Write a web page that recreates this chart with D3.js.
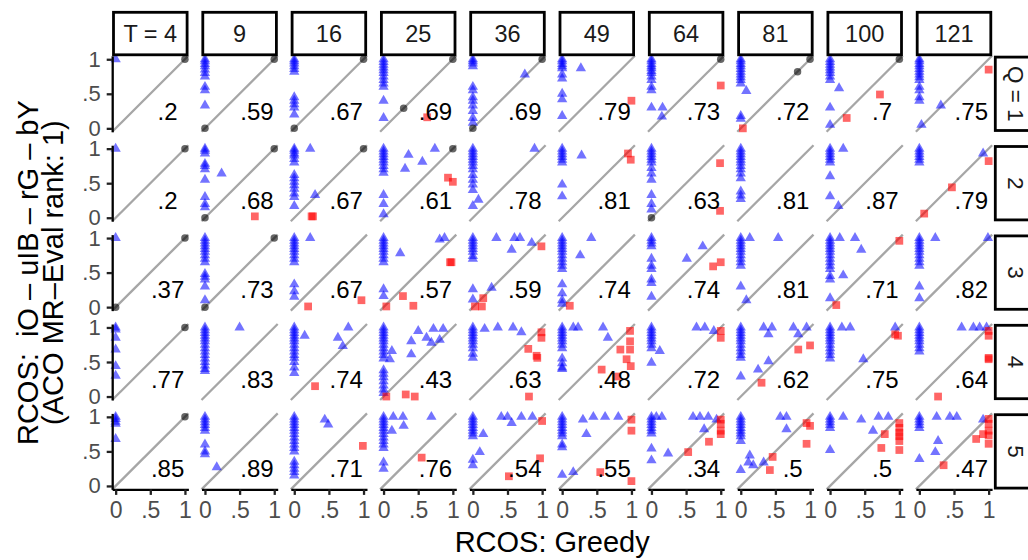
<!DOCTYPE html>
<html>
<head>
<meta charset="utf-8">
<script src="https://cdn.jsdelivr.net/npm/d3@7"></script>
<style>
  body { margin: 0; background: #fff; }
  svg { display: block; font-family: "Liberation Sans", Arial, sans-serif; }
</style>
</head>
<body>
<div id="chart"></div>
<script>
// facet categories
const tValues = [4, 9, 16, 25, 36, 49, 64, 81, 100, 121];
const qValues = [1, 2, 3, 4, 5];
const tickValues = [0, 0.5, 1];
const tickLabels = ["0", ".5", "1"];

// ratio label printed in each panel, one list per Q row
const ratioQ1 = [.2, .59, .67, .69, .69, .79, .73, .72, .7, .75];
const ratioQ2 = [.2, .68, .67, .61, .78, .81, .63, .81, .87, .79];
const ratioQ3 = [.37, .73, .67, .57, .59, .74, .74, .81, .71, .82];
const ratioQ4 = [.77, .83, .74, .43, .63, .48, .72, .62, .75, .64];
const ratioQ5 = [.85, .89, .71, .76, .54, .55, .34, .5, .5, .47];

// RCOS values of the runs where Greedy = 0, one list per T
const zeroQ1 = [
  [1],
  [1, .97, .93, .9, .85, .8, .75, .6, .55, .33, 0],
  [1, .97, .94, .9, .86, .82, .45, .4, .35, .3, .2, 0],
  [1, .96, .92, .88, .84, .8, .75, .7, .65, .6, .4, .15],
  [1, .97, .94, .9, .6, .55, .45, .4, .33, .25, .15, .08, 0],
  [1, .97, .93, .9, .87, .78, .72, .5, .42, .18],
  [1, .97, .93, .9, .87, .83, .8, .75, .7, .6, .55, .3],
  [1, .97, .93, .9, .86, .82, .78, .74, .7, .65, .18, .14],
  [1, .96, .92, .88, .84, .8, .75, .7, .3, .05],
  [1, .97, .93, .9, .86, .82, .78, .74, .7, .6, .55, .45, .4]
];
const zeroQ2 = [
  [1],
  [1, .97, .93, .78, .75, .7, .55, .3, .2, .15, 0],
  [1, .97, .93, .9, .85, .8, .62, .57, .52, .47, .42, .35, .3, .17],
  [1, .96, .92, .88, .84, .8, .75, .7, .65, .33, .2, .05],
  [1, .96, .92, .88, .84, .8, .75, .7, .62, .55, .48, .4, .17],
  [1, .96, .92, .88, .84, .8, .48, .31],
  [1, .96, .92, .88, .84, .8, .72, .64, .55, .33, .2, .12, 0],
  [1, .96, .92, .88, .84, .8, .75, .7, .64, .57, .38, .32, .27],
  [1, .96, .92, .88, .84, .8, .6, .31],
  [1, .96, .92, .88, .84, .8]
];
const zeroQ3 = [
  [1, 0],
  [1, .96, .92, .88, .84, .8, .75, .7, .65, .48, .44, .4, .3, .1, 0],
  [1, .96, .92, .88, .84, .8, .75, .7, .65, .33, .23, .15],
  [1, .96, .92, .88, .84, .8, .75, .7, .65, .26, .16],
  [1, .96, .92, .88, .84, .8, .74, .7, .26, .11],
  [1, .96, .92, .88, .84, .8, .75, .7, .65, .6, .55, .33, .2, .1, .05],
  [1, .96, .92, .88, .7, .6, .55, .4, .35, .15],
  [1, .96, .92, .88, .84, .8, .75, .7, .65, .6, .3],
  [1, .96, .92, .88, .84, .8, .75, .7, .65, .6, .55, .45, .4, .13],
  [1, .96, .92, .88, .84, .8, .75, .7, .65, .6, .3, .13]
];
const zeroQ4 = [
  [1, .97, .85, .68, .44, .3],
  [1, .96, .92, .88, .84, .8, .75, .7, .65, .6, .55, .5, .45, .4, .37],
  [1, .96, .92, .88, .84, .8, .75, .7, .65, .6, .56, .5, .42, .34],
  [1, .96, .92, .88, .84, .8, .75, .7, .65, .6, .55, .38, .33, .28, .22, .16, .1, .05],
  [1, .96, .92, .88, .84, .8, .75, .7, .62, .56],
  [1, .96, .92, .88, .84, .8, .75, .7, .55, .48, .42, .4],
  [1, .96, .92, .88, .84, .8, .75, .7, .49],
  [1, .96, .92, .88, .84, .8, .75, .7, .65, .6, .56, .29],
  [1, .96, .92, .88, .84, .8, .75, .7, .65, .6, .55],
  [1, .96, .92, .88, .84, .8, .75, .7, .65]
];
const zeroQ5 = [
  [1, .97, .93, .9, .68],
  [1, .96, .92, .88, .84, .8, .6, .5, .46],
  [1, .96, .92, .88, .84, .8, .75, .7, .65, .6, .55, .5, .35, .3, .25, .2, .15],
  [1, .96, .92, .88, .84, .8, .75, .7, .65, .6, .55, .34, .25],
  [1, .96, .92, .88, .84, .8, .76, .72, .38, .3],
  [1, .96, .92, .88, .84, .8, .76, .72, .6, .56, .16],
  [1, .96, .92, .88, .84, .8, .76, .54, .37],
  [1, .96, .92, .88, .84, .8, .76, .72, .65, .23],
  [1, .96, .92, .88, .84, .52],
  [1, .96, .92, .88, .84, .39]
];

// other runs: [T, Greedy, RCOS]
const moreQ1 = [
  [4, 1, 1], [9, 1, 1], [16, 1, 1], [25, .29, .29], [25, 1, 1], [25, .63, .16],
  [36, .75, .78], [36, 1, 1], [49, .27, .87], [49, 1, .4],
  [64, .16, .3], [64, .15, .17], [64, 1, 1], [64, 1, .62],
  [81, .08, .54], [81, .03, 0], [81, .82, .82], [81, 1, 1],
  [100, .13, .58], [100, .72, .49], [100, .24, .15], [100, 1, 1],
  [121, .31, .33], [121, .03, .05], [121, 1, .85]
];
const moreQ2 = [
  [4, 1, 1], [9, 1, 1], [9, .24, .64], [9, .72, .02],
  [16, .23, 1], [16, .3, .33], [16, .25, .02], [16, .27, .02], [16, 1, 1],
  [25, .36, .91], [25, .31, .71], [25, .56, .81], [25, .74, 1], [25, .93, .58], [25, 1, .52], [25, 1, 1],
  [36, .08, .26], [36, .89, 1], [49, .28, .9], [49, .95, .93], [49, .99, .84],
  [64, .99, .79], [64, .99, .1], [100, .19, 1], [100, .12, .17],
  [121, .92, .93], [121, 1, .82], [121, .47, .44], [121, .07, .06]
];
const moreQ3 = [
  [4, 1, 1], [9, 1, 1], [16, .23, 1], [16, .2, .01], [16, .97, .1],
  [25, .24, .78], [25, .81, .98], [25, .88, 1], [25, .96, .65], [25, .98, .65],
  [25, .28, .16], [25, .43, .02], [25, .04, .01],
  [36, .34, 1], [36, .6, 1], [36, .68, 1], [36, .56, .83], [36, .85, .93], [36, .27, .28],
  [36, .99, .88], [36, .15, .13], [36, .13, .01], [36, .03, .01],
  [49, .42, 1], [49, .26, .75], [49, .11, .02],
  [64, .74, .88], [64, .51, .7], [64, .89, .59], [64, 1, .65],
  [81, .08, .1], [81, .13, 1], [81, .54, 1],
  [100, .14, 1], [100, .36, 1], [100, .45, .83], [100, .19, .46], [100, 1, .96], [100, .09, .03],
  [121, .23, 1], [121, .99, 1]
];
const moreQ4 = [
  [4, 1, 1], [9, .5, 1],
  [16, .15, .88], [16, .78, 1], [16, .63, .85], [16, .7, .73], [16, .3, .15],
  [25, .12, .66], [25, .09, .54], [25, .5, .95], [25, .4, .8], [25, .4, .61], [25, .72, .98],
  [25, .86, .98], [25, .62, .85], [25, .81, .82], [25, .69, .78], [25, .04, 0], [25, .32, .03], [25, .45, 0],
  [36, .17, .98], [36, .36, 1], [36, .58, 1], [36, .7, .93], [36, .99, .93], [36, .99, .85],
  [36, .8, .69], [36, .92, .59], [36, .93, .56], [36, .81, 0],
  [49, .16, 1], [49, .23, 1], [49, .59, 1], [49, .66, .85], [49, .98, .95], [49, .98, .8],
  [49, .98, .68], [49, .84, .68], [49, .93, .54], [49, .99, .44], [49, .57, .39], [49, .79, .29],
  [64, .12, .66], [64, .65, 1], [64, .77, 1], [64, .9, .95], [64, 1, .95], [64, 1, .85],
  [81, .33, 1], [81, .45, 1], [81, .4, .9], [81, .76, 1], [81, .95, 1], [81, .83, .9], [81, .4, .51],
  [81, .25, .39], [81, .83, .68], [81, 1, .74], [81, .3, .2],
  [100, .17, 1], [100, .29, 1], [100, .48, .54], [100, .94, 1], [100, .98, .88], [100, .94, .9],
  [121, .61, 1], [121, .78, 1], [121, .87, 1], [121, .97, 1], [121, 1, .95], [121, 1, .88],
  [121, 1, .56], [121, 1, .54], [121, .27, 0]
];
const moreQ5 = [
  [4, 1, 1], [9, .17, .27], [16, .44, .96], [16, .49, .89], [16, .99, .58],
  [25, .12, .8], [25, .14, 1], [25, .28, 1], [25, .69, 1], [25, .29, .87], [25, .55, .41],
  [36, .15, .75], [36, .1, .49], [36, .41, 1], [36, .5, 1], [36, .7, 1], [36, .86, 1], [36, .56, .91],
  [36, 1, .94], [36, .97, .4], [36, .52, .14],
  [49, .16, .2], [49, .3, .96], [49, .45, 1], [49, .62, 1], [49, .81, 1], [49, .35, .75],
  [49, 1, .96], [49, 1, .8], [49, .55, .2], [49, 1, .07],
  [64, .24, .47], [64, .07, 1], [64, .15, 1], [64, .6, 1], [64, .7, 1], [64, .82, 1], [64, .94, .96],
  [64, .76, .82], [64, 1, .96], [64, 1, .9], [64, 1, .8], [64, 1, .75], [64, .83, .64], [64, .53, .49],
  [81, .13, .44], [81, .11, .34], [81, .33, .34], [81, .18, .3], [81, .57, 1], [81, .66, 1], [81, .66, .82],
  [81, .95, .91], [81, 1, .87], [81, .95, .61], [81, .46, .42], [81, .42, .23],
  [100, .19, 1], [100, .45, .96], [100, .7, 1], [100, .84, 1], [100, .62, .8], [100, .79, .75], [100, .74, .55],
  [100, 1, .91], [100, 1, .84], [100, 1, .77], [100, 1, .72], [100, 1, .65], [100, 1, .52],
  [121, .25, 1], [121, .44, 1], [121, .54, 1], [121, .27, .65], [121, .23, .49], [121, .92, .96],
  [121, 1, .97], [121, 1, .9], [121, 1, .8], [121, 1, .73], [121, 1, .61], [121, .92, .75],
  [121, .82, .68], [121, .35, .3]
];

const ratios = [ratioQ1, ratioQ2, ratioQ3, ratioQ4, ratioQ5];
const zeros = [zeroQ1, zeroQ2, zeroQ3, zeroQ4, zeroQ5];
const mores = [moreQ1, moreQ2, moreQ3, moreQ4, moreQ5];

// layout
const width = 1028, height = 560;
const panelW = 76.2, panelH = 76, colStep = 89.3, rowStep = 89.4;
const left0 = 112.2, top0 = 55.8;

const svg = d3.select("#chart").append("svg")
  .attr("width", width)
  .attr("height", height);

const x = d3.scaleLinear().domain([-0.05, 1.05]).range([0, panelW]);
const y = d3.scaleLinear().domain([-0.05, 1.05]).range([panelH, 0]);
const fmtTick = d => tickLabels[tickValues.indexOf(d)];
const fmtRatio = v => String(v).replace(/^0/, "");

const triangle = d3.symbol(d3.symbolTriangle, 46)();
const square = d3.symbol(d3.symbolSquare, 60)();
const circle = d3.symbol(d3.symbolCircle, 44)();

qValues.forEach((q, r) => {
  tValues.forEach((t, c) => {
    const g = svg.append("g")
      .attr("transform", `translate(${left0 + c * colStep}, ${top0 + r * rowStep})`);

    // diagonal
    g.append("line")
      .attr("x1", x(-0.05)).attr("y1", y(-0.05))
      .attr("x2", x(1.05)).attr("y2", y(1.05))
      .attr("stroke", "#a6a6a6")
      .attr("stroke-width", 2.3);

    const pts = zeros[r][c].map(v => [0, v])
      .concat(mores[r].filter(d => d[0] === t).map(d => [d[1], d[2]]));

    g.selectAll("path.pt")
      .data(pts)
      .enter()
      .append("path")
      .attr("class", "pt")
      .attr("transform", d => `translate(${x(d[0])}, ${y(d[1])})`)
      .attr("d", d => d[1] > d[0] ? triangle : d[1] < d[0] ? square : circle)
      .attr("fill", d => d[1] > d[0] ? "#0000ff" : d[1] < d[0] ? "#ff0000" : "#000000")
      .attr("fill-opacity", d => d[1] > d[0] ? 0.55 : 0.6);

    g.append("text")
      .attr("x", x(0.75))
      .attr("y", y(0.25))
      .attr("text-anchor", "middle")
      .attr("dominant-baseline", "central")
      .attr("font-size", 24)
      .attr("fill", "#000")
      .text(fmtRatio(ratios[r][c]));

    // left axis
    if (c === 0) {
      const ax = g.append("g")
        .call(d3.axisLeft(y).tickValues(tickValues).tickFormat(fmtTick)
          .tickSizeInner(5.5).tickSizeOuter(0).tickPadding(6));
      ax.select(".domain").attr("stroke", "#000").attr("stroke-width", 2.3);
      ax.selectAll(".tick line").attr("stroke", "#222").attr("stroke-width", 2.3);
      ax.selectAll(".tick text").attr("fill", "#4d4d4d").attr("font-size", 22)
        .attr("font-family", "Liberation Sans, Arial, sans-serif");
    }

    // bottom axis
    if (r === qValues.length - 1) {
      const ax = g.append("g")
        .attr("transform", `translate(0, ${panelH})`)
        .call(d3.axisBottom(x).tickValues(tickValues).tickFormat(fmtTick)
          .tickSizeInner(5.5).tickSizeOuter(0).tickPadding(7));
      ax.select(".domain").attr("stroke", "#000").attr("stroke-width", 2.3);
      ax.selectAll(".tick line").attr("stroke", "#222").attr("stroke-width", 2.3);
      ax.selectAll(".tick text").attr("fill", "#4d4d4d").attr("font-size", 23)
        .attr("font-family", "Liberation Sans, Arial, sans-serif");
    }

    // top strips
    if (r === 0) {
      svg.append("rect")
        .attr("x", left0 + c * colStep + 1.3)
        .attr("y", 12.3)
        .attr("width", panelW - 2.6)
        .attr("height", 42.5)
        .attr("fill", "#fff")
        .attr("stroke", "#000")
        .attr("stroke-width", 2.8);
      svg.append("text")
        .attr("x", left0 + c * colStep + panelW / 2)
        .attr("y", 34)
        .attr("text-anchor", "middle")
        .attr("dominant-baseline", "central")
        .attr("font-size", 23.5)
        .attr("fill", "#1a1a1a")
        .text(c === 0 ? `T = ${t}` : t);
    }
  });

  // right strips (cut by the picture edge, as in the reference)
  const sy = top0 + r * rowStep;
  svg.append("rect")
    .attr("x", 995.3)
    .attr("y", sy + 1.3)
    .attr("width", 42.5)
    .attr("height", panelH - 2.6)
    .attr("fill", "#fff")
    .attr("stroke", "#000")
    .attr("stroke-width", 2.8);
  svg.append("text")
    .attr("transform", `translate(1015.5, ${sy + panelH / 2}) rotate(90)`)
    .attr("text-anchor", "middle")
    .attr("dominant-baseline", "central")
    .attr("font-size", 22.5)
    .attr("fill", "#1a1a1a")
    .text(r === 0 ? `Q = ${q}` : q);
});

// axis titles
const midX = left0 + (tValues.length - 1) * colStep / 2 + panelW / 2;
const midY = top0 + (qValues.length - 1) * rowStep / 2 + panelH / 2;

svg.append("text")
  .attr("x", midX)
  .attr("y", 552)
  .attr("text-anchor", "middle")
  .attr("font-size", 29)
  .attr("fill", "#000")
  .text("RCOS: Greedy");

svg.append("text")
  .attr("transform", `translate(38, ${midY}) rotate(-90)`)
  .attr("text-anchor", "middle")
  .attr("font-size", 29)
  .attr("fill", "#000")
  .style("white-space", "pre")
  .text("RCOS:  iO – uIB – rG – bY");

svg.append("text")
  .attr("transform", `translate(63, ${midY}) rotate(-90)`)
  .attr("text-anchor", "middle")
  .attr("font-size", 29)
  .attr("fill", "#000")
  .text("(ACO MR–Eval rank: 1)");
</script>
</body>
</html>
